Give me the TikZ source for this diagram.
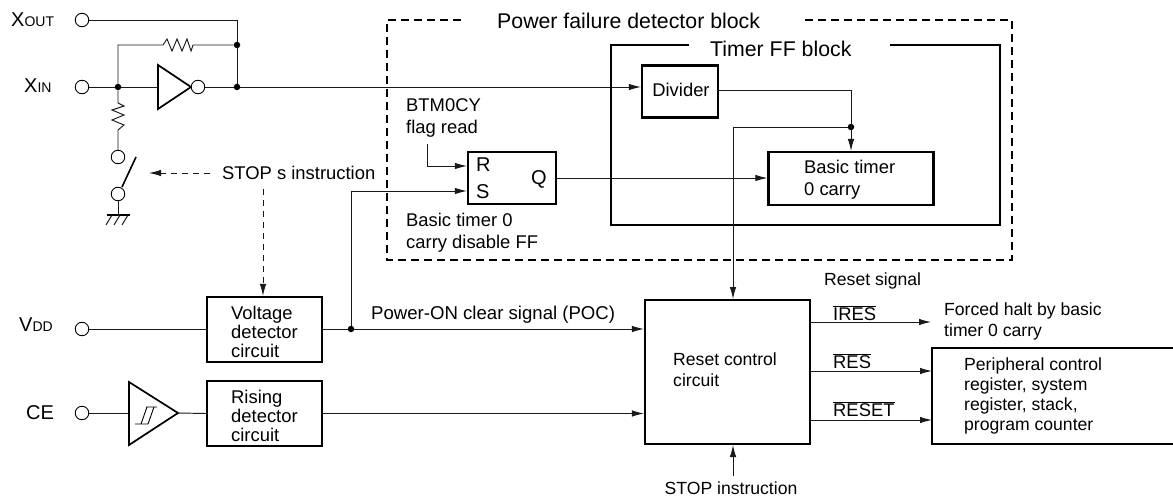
\documentclass[tikz,border=0pt]{standalone}
\usepackage{fontspec}
\setmainfont{Liberation Sans}
\usetikzlibrary{arrows.meta}
\tikzset{
 x=1pt,y=-1pt,
 wire/.style={line width=0.95pt,black!90},
 arr/.style={wire,-{Latex[length=12pt,width=6.5pt]}},
 darr/.style={arr,dash pattern=on 6pt off 5pt},
 box/.style={draw,line width=2.1pt,inner sep=0pt,rectangle},
 pin/.style={draw,circle,line width=0.9pt,minimum size=13.5pt,inner sep=0pt,fill=white},
 dotj/.style={circle,fill=black,minimum size=6.5pt,inner sep=0pt},
 lab/.style={inner sep=0pt,align=left,font=\fontsize{18.4}{19}\selectfont},
 small/.style={inner sep=0pt,align=left,font=\fontsize{17.6}{21}\selectfont},
 big/.style={lab,font=\fontsize{20}{22}\selectfont},
 title/.style={lab,font=\fontsize{21.3}{24}\selectfont},
 heavy/.style={line width=2.1pt},
 tri/.style={line width=1.7pt,line join=miter},
}
\newcommand{\subs}[1]{{\fontsize{14}{16}\selectfont #1}}
\newcommand{\barred}[1]{$\overline{\mbox{#1}}$}
\begin{document}
\begin{tikzpicture}
\useasboundingbox (0,0) rectangle (1173,500);
% pins
\node[pin] (xout) at (82,20) {};
\node[pin] (xin) at (82,87) {};
\node[pin] (vdd) at (82,329) {};
\node[pin] (ce) at (82,413) {};
\node[big,anchor=west] (lxout) at (11,20) {X\subs{OUT}};
\node[big,anchor=west] (lxin) at (24,86) {X\subs{IN}};
\node[big,anchor=west] (lvdd) at (19,325) {V\subs{DD}};
\node[big,anchor=west] (lce) at (26,413) {CE};
% junctions
\node[dotj] (j1) at (237,45) {};
\node[dotj] (j2) at (237,87) {};
\node[dotj] (j3) at (118,87) {};
\node[dotj] (j4) at (351,329) {};
\node[dotj] (j5) at (851,127) {};
% boxes
\node[box,minimum width=115pt,minimum height=65pt] (volt) at (264.5,329.5) {};
\node[lab,anchor=west] at (231,332) {Voltage\\detector\\circuit};
\node[box,minimum width=115pt,minimum height=65pt] (rise) at (264.5,413.5) {};
\node[lab,anchor=west] at (231,416) {Rising\\detector\\circuit};
\node[box,minimum width=88pt,minimum height=52pt] (ff) at (512,178) {};
\node[big,anchor=west] (lr) at (476,165) {R};
\node[big,anchor=west] (ls) at (476,192) {S};
\node[big,anchor=west] (lq) at (531,179) {Q};
\node[box,minimum width=76pt,minimum height=52pt] (div) at (680,91.5) {};
\node[lab,anchor=center] at (681,90) {Divider};
\node[box,minimum width=165pt,minimum height=53pt] (bt) at (851,178.5) {};
\node[lab,anchor=west,font=\fontsize{18.4}{22}\selectfont] at (804,180) {Basic timer\\0 carry};
\node[box,minimum width=165pt,minimum height=144pt] (rst) at (727.5,372) {};
\node[small,anchor=west] at (673,370) {Reset control\\circuit};
\coordinate (pnw) at (932,348);
\coordinate (psw) at (932,444);
\coordinate (pne) at (1173,348);
\coordinate (pse) at (1173,444);
\draw[heavy] (pne) -- (pnw) -- (psw) -- (pse);
\node[small,anchor=west,font=\fontsize{17.6}{20}\selectfont] at (964,396) {Peripheral control\\register, system\\register, stack,\\program counter};
% Xtal wiring
\draw[wire] (xout) -- (237,20) -- (j1) -- (j2);
\draw[wire] (xin) -- (j3);
\coordinate (invl) at (158,87);
\draw[wire] (j3) -- (invl);
\draw[tri] (158,65) -- (191,87) -- (158,109) -- cycle;
\node[pin] (bub) at (198,87) {};
\draw[wire] (bub) -- (j2);
% feedback resistor
\draw[wire] (j3) -- (118,45) -- (163,45) -- (167,39) -- (172,51) -- (177,39) -- (182,51) -- (187,39) -- (191,51) -- (193,45) -- (j1);
% shunt resistor
\node[pin] (sw1) at (118,157) {};
\node[pin] (sw2) at (118,194) {};
\draw[wire] (j3) -- (118,103) -- (124,106) -- (112,110) -- (124,115) -- (112,120) -- (124,125) -- (118,130) -- (sw1);
\draw[line width=1.6pt] (122,187) -- (136,157);
\coordinate (gnd) at (118,215);
\draw[wire] (sw2) -- (gnd);
\draw[heavy] (107,215) -- (130,215);
\draw[wire] (112,215) -- (106,225) (120,215) -- (114,225) (128,215) -- (122,225);
% stop s
\node[lab,anchor=west] (stops) at (222,173) {STOP s instruction};
\coordinate (dl) at (149,173);
\draw[darr] (210,173) -- (dl);
\coordinate (dv) at (263,189);
\draw[darr] (dv) -- (volt.north -| dv);
% main signal
\draw[arr] (j2) -- (div.west |- j2);
\draw[wire] (vdd) -- (volt.west |- vdd);
\draw[wire] (volt.east |- j4) -- (j4);
\draw[arr] (j4) -- (rst.west |- j4);
\draw[arr] (j4) -- (351,191) -- (ff.west |- 0,191);
\draw[arr] (427,144) -- (427,166) -- (ff.west |- 0,166);
\draw[arr] (ff.east) -- (bt.west |- ff.east);
\draw[arr] (div.east |- 0,90) -- (851,90) -- (851,151);
\draw[arr] (j5) -- (733,127) -- (733,299);
% CE
\draw[wire] (ce) -- (129,413);
\draw[tri] (129,382) -- (178,413) -- (129,445) -- cycle;
\draw[line width=0.9pt] (135,424) -- (148,424) -- (154,407) (141,424) -- (147,407) (146,407) -- (157,407);
\draw[wire] (178,413) -- (rise.west);
\draw[arr] (rise.east) -- (rst.west |- rise.east);
% outputs
\node[lab,anchor=west,font=\fontsize{18.6}{19}\selectfont] at (371,315) {Power-ON clear signal (POC)};
\node[small,anchor=west] at (824,281) {Reset signal};
\node[lab,anchor=west] at (833,313) {\barred{IRES}};
\node[lab,anchor=west] at (833,361) {\barred{RES}};
\node[lab,anchor=west] at (833,409) {\barred{RESET}};
\draw[arr] (rst.east |- 0,322) -- (931,322);
\draw[arr] (rst.east |- 0,371) -- (pnw |- 0,371);
\draw[arr] (rst.east |- 0,420) -- (pnw |- 0,420);
\node[small,anchor=west] at (944,321.5) {Forced halt by basic\\timer 0 carry};
\coordinate (stp) at (733,476);
\draw[arr] (stp) -- (733,445);
\node[small,anchor=center] at (731,488) {STOP instruction};
% blocks
\draw[line width=2.2pt,dash pattern=on 8pt off 5pt] (461,20) -- (387,20) -- (387,260) -- (1012,260) -- (1012,20) -- (802,20);
\node[title,anchor=west] at (497,21) {Power failure detector block};
\draw[heavy] (689,45) -- (611,45) -- (611,225) -- (1000,225) -- (1000,45) -- (890,45);
\node[title,anchor=west] at (710,49) {Timer FF block};
\node[lab,anchor=west,font=\fontsize{18.4}{22}\selectfont] at (406,118) {BTM0CY\\flag read};
\node[lab,anchor=west,font=\fontsize{18.4}{22}\selectfont] at (406,233) {Basic timer 0\\carry disable FF};
\end{tikzpicture}
\end{document}
